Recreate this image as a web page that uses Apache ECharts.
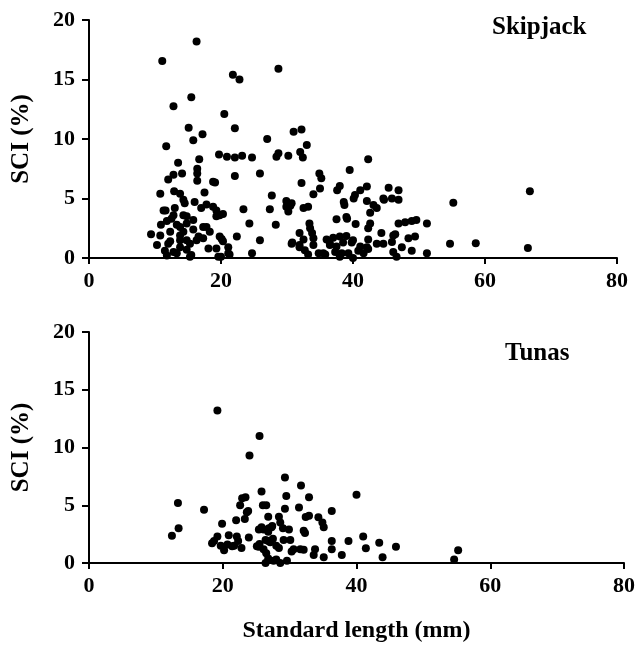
<!DOCTYPE html>
<html>
<head>
<meta charset="utf-8">
<script src="https://cdn.jsdelivr.net/npm/echarts@6/dist/echarts.min.js"></script>
<style>
  html, body { margin: 0; padding: 0; background: #fff; }
  #chart { width: 638px; height: 647px; }
</style>
</head>
<body>
<div id="chart"></div>
<script>
// standard length (mm) and SCI (%)
const skipjackLength = [
  16.3, 11.1, 21.8, 22.8, 28.7, 15.5, 12.8, 20.5, 15.1, 22.1, 17.2, 15.8, 11.7, 27.0,
  19.7, 20.9, 22.1, 23.2, 24.7, 28.4, 16.7, 16.4, 16.4, 16.4, 13.5, 12.8, 14.1, 12.0,
  22.1, 25.9, 19.1, 10.8, 12.9, 13.8, 17.5, 27.7, 16.0, 14.5, 17.8, 18.8, 11.6, 13.0,
  23.4, 27.4, 12.5, 14.8, 15.8, 19.3, 20.3, 10.9, 13.8, 17.3, 24.3, 28.3, 9.4, 12.3,
  13.8, 18.3, 22.4, 25.9, 10.3, 12.0, 14.8, 16.6, 20.1, 11.5, 13.8, 15.3, 18.1, 21.1,
  11.8, 13.3, 15.3, 19.6, 21.1, 24.7,
  18.8, 14.3, 17.0, 19.3, 19.8, 11.3, 12.8, 14.3, 11.8, 13.3, 14.8, 10.8, 14.3, 15.8,
  17.8, 19.8, 20.3, 12.3, 16.3, 17.3, 12.8, 14.8, 15.5, 19.3, 20.0, 21.3, 13.8,
  31.0, 32.2, 33.0, 32.0, 32.4, 28.7, 30.2, 42.3, 34.9, 35.2, 39.5, 32.2, 38.0, 37.6,
  41.1, 42.1, 35.0, 34.0, 45.4, 46.9, 40.1, 38.6, 38.7, 29.9, 30.7, 29.9, 30.2, 32.5,
  33.2, 42.1, 43.1, 43.6, 42.6, 44.7, 46.9, 55.2, 37.5, 39.1, 40.4, 33.4, 33.5, 33.8,
  34.0, 42.3, 42.6, 46.9, 47.9, 48.9, 49.6, 51.2, 44.3, 46.4, 48.4, 49.4, 31.9, 32.5,
  36.0, 37.0, 38.0, 39.0, 40.0, 42.3, 43.6, 44.6, 45.9, 30.8, 34.0, 36.5, 37.5, 38.5,
  39.8, 41.1, 42.1, 31.9, 32.7, 33.2, 35.5, 37.3, 38.0, 39.3, 40.0, 41.6, 42.3, 46.1,
  46.6, 47.4, 48.9, 51.2, 54.7, 58.6, 66.8, 66.5,
  40.3, 44.6, 45.9, 30.5, 39.0, 46.1, 30.7, 31.9, 36.5, 34.8, 35.8, 38.3, 40.8
];
const skipjackSCI = [
  18.2, 16.55, 15.4, 15.0, 15.9, 13.5, 12.75, 12.1, 10.95, 10.9, 10.4, 9.9, 9.4, 10.0,
  8.7, 8.5, 8.45, 8.6, 8.45, 8.5, 8.3, 7.5, 7.1, 6.5, 8.0, 7.0, 7.1, 6.6,
  6.9, 7.1, 6.35, 5.4, 5.6, 5.4, 5.5, 5.25, 4.7, 4.6, 4.5, 4.3, 4.0, 4.2,
  4.1, 4.1, 3.3, 3.5, 3.2, 3.5, 3.7, 2.8, 2.6, 2.6, 2.9, 2.8, 2.0, 2.2,
  1.9, 2.2, 1.8, 1.5, 1.1, 1.2, 1.5, 1.8, 1.6, 0.6, 0.9, 1.2, 0.8, 0.9,
  0.2, 0.4, 0.1, 0.1, 0.4, 0.4,
  6.4, 4.9, 4.2, 4.0, 3.6, 4.0, 3.6, 3.6, 3.1, 2.8, 2.9, 1.9, 2.2, 2.4,
  2.6, 1.8, 1.4, 1.4, 1.5, 1.65, 0.5, 0.7, 0.25, 0.8, 0.1, 0.3, 1.5,
  10.6, 10.8, 9.5, 8.9, 8.45, 8.8, 8.6, 8.3, 7.1, 6.7, 7.4, 6.3, 6.05, 5.7,
  5.7, 6.0, 5.85, 5.35, 5.9, 5.7, 5.0, 4.7, 4.45, 4.8, 4.6, 4.3, 3.9, 4.2,
  4.3, 4.8, 4.45, 4.2, 3.8, 4.9, 4.9, 4.65, 3.25, 3.3, 2.85, 2.9, 2.5, 2.1,
  1.65, 2.5, 2.9, 2.9, 3.0, 3.1, 3.2, 2.9, 2.1, 2.0, 1.65, 1.8, 2.1, 1.55,
  1.55, 1.7, 1.8, 1.85, 1.5, 1.55, 1.2, 1.2, 1.35, 1.3, 1.1, 1.1, 0.97, 1.3,
  1.3, 0.97, 0.9, 0.9, 0.65, 0.3, 0.4, 0.5, 0.1, 0.4, 0.0, 0.4, 0.75, 0.5,
  0.1, 0.9, 0.6, 0.4, 1.2, 1.25, 5.6, 0.85,
  5.3, 5.0, 5.0, 4.4, 3.45, 1.9, 1.2, 1.1, 1.2, 0.4, 0.3, 0.4, 0.6
];

const tunasLength = [
  19.2, 25.5, 24.0, 13.3, 17.2, 25.8, 13.4, 12.4, 26.0, 19.9, 22.9, 23.4, 22.6, 23.8,
  23.3, 22.0, 28.4, 25.8, 27.3, 26.8, 19.2, 20.9, 22.1, 23.9, 18.7, 19.7, 20.7, 21.7,
  22.8, 20.2, 25.5, 26.8, 27.5, 28.0, 26.5, 26.8, 28.0,
  29.3, 31.7, 29.5, 32.9, 40.0, 26.5, 29.3, 31.4, 36.3, 26.8, 32.4, 32.9, 34.3, 34.9,
  35.1, 28.6, 29.0, 29.9, 25.4, 26.1, 26.9, 27.4, 32.1, 32.3, 26.4, 27.1, 28.4, 29.1,
  30.1, 25.4, 26.1, 36.3, 38.8, 41.0, 41.4, 43.4, 45.9, 30.6, 31.6, 32.1, 33.8, 33.6,
  36.3, 30.3, 35.1, 37.8, 43.9, 26.4, 27.6, 28.6, 29.6, 54.6, 55.2,
  18.4, 21.4, 22.3, 25.1, 23.6
];
const tunasSCI = [
  13.2, 11.0, 9.3, 5.2, 4.6, 6.2, 3.0, 2.35, 5.0, 3.4, 5.6, 5.7, 5.0, 4.5,
  3.8, 3.7, 4.0, 3.1, 3.1, 2.7, 2.3, 2.4, 2.3, 2.2, 1.9, 1.5, 1.6, 1.5,
  1.3, 1.1, 1.65, 1.9, 2.1, 1.5, 0.85, 0.4, 0.3,
  7.4, 6.7, 5.8, 5.7, 5.9, 5.0, 4.7, 4.8, 4.5, 4.0, 3.98, 4.1, 3.96, 3.5,
  3.1, 3.5, 3.0, 2.9, 2.9, 2.9, 3.0, 3.2, 2.8, 2.6, 2.0, 1.8, 1.3, 2.0,
  2.0, 1.4, 1.2, 1.9, 1.9, 2.3, 1.27, 1.75, 1.4, 1.2, 1.2, 1.15, 1.2, 0.7,
  1.2, 1.0, 0.5, 0.7, 0.5, 0.0, 0.2, 0.0, 0.2, 0.3, 1.1,
  1.7, 1.45, 1.9, 1.45, 4.4
];

const xTicks = [0, 20, 40, 60, 80];
const yTicks = [0, 5, 10, 15, 20];

const font = '"Liberation Serif", "Times New Roman", serif';

function pairs(xs, ys) {
  return xs.map((x, i) => [x, ys[i]]);
}

function xAxis(idx, showName) {
  return {
    type: 'value', gridIndex: idx,
    min: xTicks[0], max: xTicks[xTicks.length - 1], interval: 20,
    name: showName ? 'Standard length (mm)' : '',
    nameLocation: 'middle', nameGap: 56,
    nameTextStyle: { fontFamily: font, fontWeight: 'bold', fontSize: 24, color: '#000' },
    axisLine: { onZero: false, lineStyle: { color: '#000', width: 2 } },
    axisTick: { inside: false, length: 6, lineStyle: { color: '#000', width: 2 } },
    axisLabel: { margin: 12, fontFamily: font, fontWeight: 'bold', fontSize: 22, color: '#000' },
    splitLine: { show: false }
  };
}

function yAxis(idx) {
  return {
    type: 'value', gridIndex: idx,
    min: yTicks[0], max: yTicks[yTicks.length - 1], interval: 5,
    name: 'SCI (%)', nameLocation: 'middle', nameGap: 55,
    nameTextStyle: { fontFamily: font, fontWeight: 'bold', fontSize: 25, color: '#000' },
    axisLine: { show: true, lineStyle: { color: '#000', width: 2 } },
    axisTick: { show: true, length: 7, lineStyle: { color: '#000', width: 2 } },
    axisLabel: { margin: 14, fontFamily: font, fontWeight: 'bold', fontSize: 22, color: '#000' },
    splitLine: { show: false }
  };
}

const chart = echarts.init(document.getElementById('chart'), null, { renderer: 'canvas' });

chart.setOption({
  animation: false,
  backgroundColor: '#fff',
  grid: [
    { left: 89, top: 20, width: 528, height: 238 },
    { left: 89, top: 332, width: 538, height: 231 }
  ],
  xAxis: [xAxis(0, false), xAxis(1, true)],
  yAxis: [yAxis(0), yAxis(1)],
  graphic: [
    { type: 'text', left: 492, top: 15,
      style: { text: 'Skipjack', font: 'bold 25px ' + font, fill: '#000' } },
    { type: 'text', left: 505, top: 341,
      style: { text: 'Tunas', font: 'bold 25px ' + font, fill: '#000' } }
  ],
  series: [
    { type: 'scatter', xAxisIndex: 0, yAxisIndex: 0, symbolSize: 8,
      itemStyle: { color: '#000', opacity: 1 },
      data: pairs(skipjackLength, skipjackSCI) },
    { type: 'scatter', xAxisIndex: 1, yAxisIndex: 1, symbolSize: 8,
      itemStyle: { color: '#000', opacity: 1 },
      data: pairs(tunasLength, tunasSCI) }
  ]
});
</script>
</body>
</html>
